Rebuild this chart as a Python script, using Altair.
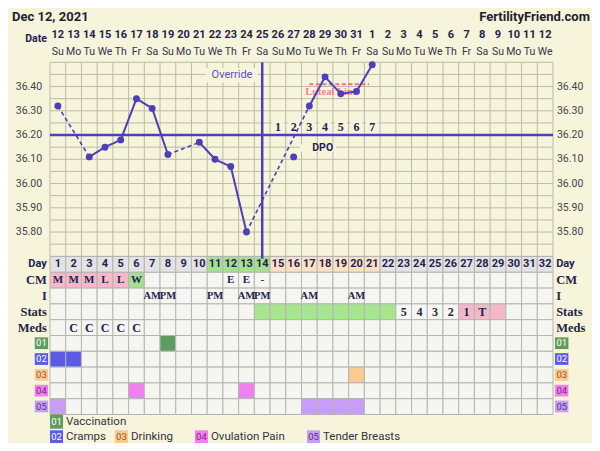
import altair as alt
import pandas as pd

# ---------------- data ----------------
dates = ["12","13","14","15","16","17","18","19","20","21","22","23","24","25","26","27",
         "28","29","30","31","1","2","3","4","5","6","7","8","9","10","11","12"]
weekdays = ["Su","Mo","Tu","We","Th","Fr","Sa","Su","Mo","Tu","We","Th","Fr","Sa","Su","Mo",
            "Tu","We","Th","Fr","Sa","Su","Mo","Tu","We","Th","Fr","Sa","Su","Mo","Tu","We"]
cycle_days = list(range(1, 33))

temp_days = [1, 3, 4, 5, 6, 7, 8, 10, 11, 12, 13, 16, 17, 18, 19, 20, 21]
temps = [36.32, 36.11, 36.15, 36.18, 36.35, 36.31, 36.12, 36.17, 36.10, 36.07, 35.80,
         36.11, 36.32, 36.44, 36.37, 36.38, 36.49]
discarded_days = [16]

temp_ticks = [36.40, 36.30, 36.20, 36.10, 36.00, 35.90, 35.80]
temp_tick_labels = ["36.40", "36.30", "36.20", "36.10", "36.00", "35.90", "35.80"]
temp_min, temp_max = 35.70, 36.50
coverline = 36.20
ovulation_day = 14
dpo_days = [15, 16, 17, 18, 19, 20, 21]
dpo_labels = ["1", "2", "3", "4", "5", "6", "7"]
luteal_level = 36.41

row_names = ["Day", "CM", "I", "Stats", "Meds"]
day_green = [11, 12, 13, 14]
day_peach = [15, 16, 17, 18, 19, 20, 21]
cm_days = [1, 2, 3, 4, 5, 6, 12, 13, 14]
cm_vals = ["M", "M", "M", "L", "L", "W", "E", "E", "-"]
cm_pink = [1, 2, 3, 4, 5]
cm_green = [6]
i_days = [7, 8, 11, 13, 14, 17, 20]
i_vals = ["AM", "PM", "PM", "AM", "PM", "AM", "AM"]
stats_green = [14, 15, 16, 17, 18, 19, 20, 21, 22]
stats_pink = [27, 28, 29]
stats_days = [23, 24, 25, 26, 27, 28]
stats_vals = ["5", "4", "3", "2", "1", "T"]
meds_days = [2, 3, 4, 5, 6]
meds_vals = ["C", "C", "C", "C", "C"]

symptom_codes = ["01", "02", "03", "04", "05"]
symptom_names = ["Vaccination", "Cramps", "Drinking", "Ovulation Pain", "Tender Breasts"]
symptom_days = [[8], [1, 2], [20], [6, 13], [1, 17, 18, 19, 20]]
symptom_colors = ["#5f9c5f", "#5b5be6", "#fbc992", "#f27ff0", "#c89cf7"]
symptom_text_colors = ["#ffffff", "#ffffff", "#9a5a2a", "#7a2a7a", "#4a3a7a"]

# ---------------- style ----------------
BG = "#f7f4dc"
GRID = "#bcbaa5"
CELL = "#f6f6f1"
CELL_LINE = "#b4b4b4"
INDIGO = "#4b40b8"
NAVY = "#23234d"
SANS = "Roboto"
SERIF = "Liberation Serif"

XS = alt.Scale(domain=[0, 32], range=[42, 545], nice=False, zero=False)
TS = alt.Scale(domain=[temp_min, temp_max], range=[248.3, 54.3], nice=False, zero=False)
RS = alt.Scale(domain=[0, 10], range=[248.5, 406.5], nice=False, zero=False)


def X(f):
    return alt.X(f, type="quantitative", scale=XS, axis=None)


def YT(f):
    return alt.Y(f, type="quantitative", scale=TS, axis=None)


def YR(f):
    return alt.Y(f, type="quantitative", scale=RS, axis=None)


layers = []

# temperature grid
vgrid = pd.DataFrame({"x": list(range(0, 33)), "y": temp_min, "y2": temp_max})
layers.append(alt.Chart(vgrid).mark_rule(color=GRID, strokeWidth=1).encode(
    x=X("x"), y=YT("y"), y2="y2"))
hlevels = [round(temp_min + 0.05 * i, 2) for i in range(17)]
hgrid = pd.DataFrame({"y": hlevels, "x": 0, "x2": 32})
layers.append(alt.Chart(hgrid).mark_rule(color=GRID, strokeWidth=1).encode(
    y=YT("y"), x=X("x"), x2="x2"))

# label boxes hiding grid lines
boxes = pd.DataFrame({
    "x": [9.9, 15.9] + [d - 0.88 for d in dpo_days],
    "x2": [13.2, 18.2] + [d - 0.12 for d in dpo_days],
    "y": [36.418, 36.132] + [36.215] * len(dpo_days),
    "y2": [36.476, 36.162] + [36.262] * len(dpo_days),
})
layers.append(alt.Chart(boxes).mark_rect(color=BG).encode(
    x=X("x"), x2="x2", y=YT("y"), y2="y2"))

# table cells
cells = []
for r in range(10):
    for d in cycle_days:
        fill = CELL
        if r == 0:
            fill = "#e3e3e3"
            if d in day_green:
                fill = "#a5e08f"
            elif d in day_peach:
                fill = "#fde1c4"
        elif r == 1:
            if d in cm_pink:
                fill = "#f5b9c9"
            elif d in cm_green:
                fill = "#a5e08f"
        elif r == 3:
            if d in stats_green:
                fill = "#a7e58f"
            elif d in stats_pink:
                fill = "#f4b8c8"
        elif r >= 5:
            k = r - 5
            if d in symptom_days[k]:
                fill = symptom_colors[k]
        cells.append({"x": d - 1, "x2": d, "y": r, "y2": r + 1, "fill": fill})
cells = pd.DataFrame(cells)
layers.append(alt.Chart(cells).mark_rect(stroke=CELL_LINE, strokeWidth=1).encode(
    x=X("x"), x2="x2", y=YR("y"), y2="y2", fill=alt.Fill("fill:N", scale=None)))

# cover line and ovulation line
layers.append(alt.Chart(pd.DataFrame({"y": [coverline], "x": [0], "x2": [32]})).mark_rule(
    color=INDIGO, strokeWidth=2.5).encode(y=YT("y"), x=X("x"), x2="x2"))
layers.append(alt.Chart(pd.DataFrame({"x": [ovulation_day - 0.5], "y": [temp_max], "y2": [35.69]})).mark_rule(
    color=INDIGO, strokeWidth=2.5).encode(x=X("x"), y=YT("y"), y2="y2"))

# luteal line
layers.append(alt.Chart(pd.DataFrame({"x": [16.5], "x2": [20.3], "y": [luteal_level]})).mark_rule(
    color="#f07088", strokeWidth=2, strokeDash=[4, 2.5]).encode(x=X("x"), x2="x2", y=YT("y")))
layers.append(alt.Chart(pd.DataFrame({"x": [17.9], "y": [36.376], "t": ["Luteal Line"]})).mark_text(
    font=SERIF, fontSize=10.5, fontWeight="bold", color="#ee6f86", opacity=0.85).encode(
    x=X("x"), y=YT("y"), text="t:N"))

# temperature lines
valid = [(d, t) for d, t in zip(temp_days, temps) if d not in discarded_days]
solid, dashed = [], []
for i in range(len(valid) - 1):
    (d0, t0), (d1, t1) = valid[i], valid[i + 1]
    target = solid if d1 - d0 == 1 else dashed
    target.append({"seg": i, "x": d0 - 0.5, "t": t0})
    target.append({"seg": i, "x": d1 - 0.5, "t": t1})
layers.append(alt.Chart(pd.DataFrame(dashed)).mark_line(
    color=INDIGO, strokeWidth=1.6, strokeDash=[4, 3]).encode(
    x=X("x"), y=YT("t"), detail="seg:N"))
layers.append(alt.Chart(pd.DataFrame(solid)).mark_line(
    color=INDIGO, strokeWidth=2).encode(x=X("x"), y=YT("t"), detail="seg:N"))
pts = pd.DataFrame({"x": [d - 0.5 for d in temp_days], "t": temps})
layers.append(alt.Chart(pts).mark_circle(color=INDIGO, size=48, opacity=1).encode(
    x=X("x"), y=YT("t")))

# annotations on the temperature chart
layers.append(alt.Chart(pd.DataFrame({"x": [11.58], "y": [36.447], "t": ["Override"]})).mark_text(
    font=SANS, fontSize=11, color="#5a4fc2").encode(x=X("x"), y=YT("y"), text="t:N"))
layers.append(alt.Chart(pd.DataFrame({"x": [17.35], "y": [36.146], "t": ["DPO"]})).mark_text(
    font=SANS, fontSize=10.5, fontWeight="bold", color=NAVY).encode(x=X("x"), y=YT("y"), text="t:N"))
layers.append(alt.Chart(pd.DataFrame({"x": [d - 0.5 for d in dpo_days], "y": 36.234, "t": dpo_labels})).mark_text(
    font=SERIF, fontSize=12, fontWeight="bold", color=NAVY).encode(x=X("x"), y=YT("y"), text="t:N"))

# header
layers.append(alt.Chart(pd.DataFrame({"x": [-2.42], "y": [-15.15], "t": ["Dec 12, 2021"]})).mark_text(
    font=SANS, fontSize=13, fontWeight="bold", color="#1f1f2e", align="left").encode(
    x=X("x"), y=YR("y"), text="t:N"))
layers.append(alt.Chart(pd.DataFrame({"x": [34.35], "y": [-15.15], "t": ["FertilityFriend.com"]})).mark_text(
    font=SANS, fontSize=13, fontWeight="bold", color="#1f1f2e", align="right").encode(
    x=X("x"), y=YR("y"), text="t:N"))
layers.append(alt.Chart(pd.DataFrame({"x": [-0.2], "y": [-13.75], "t": ["Date"]})).mark_text(
    font=SANS, fontSize=10.5, fontWeight="bold", color=NAVY, align="right").encode(
    x=X("x"), y=YR("y"), text="t:N"))
hdr = pd.DataFrame({"x": [d - 0.5 for d in cycle_days], "date": dates, "wd": weekdays})
layers.append(alt.Chart(hdr).mark_text(font=SANS, fontSize=11, fontWeight="bold", color=NAVY).encode(
    x=X("x"), y=alt.Y(datum=-14.05, type="quantitative", scale=RS, axis=None), text="date:N"))
layers.append(alt.Chart(hdr).mark_text(font=SANS, fontSize=10.5, color="#33334a").encode(
    x=X("x"), y=alt.Y(datum=-12.95, type="quantitative", scale=RS, axis=None), text="wd:N"))

# temperature tick labels (both sides)
tl = pd.DataFrame({"y": temp_ticks, "t": temp_tick_labels})
layers.append(alt.Chart(tl).mark_text(font=SANS, fontSize=10.5, color="#444444", align="right").encode(
    x=alt.X(datum=-0.5, type="quantitative", scale=XS, axis=None), y=YT("y"), text="t:N"))
layers.append(alt.Chart(tl).mark_text(font=SANS, fontSize=10.5, color="#444444", align="left").encode(
    x=alt.X(datum=32.25, type="quantitative", scale=XS, axis=None), y=YT("y"), text="t:N"))

# table row labels
rl = pd.DataFrame({"y": [r + 0.5 for r in range(5)], "t": row_names})
for side_x, al in [(-0.2, "right"), (32.2, "left")]:
    layers.append(alt.Chart(rl.iloc[:1]).mark_text(font=SANS, fontSize=11, fontWeight="bold",
                                                   color=NAVY, align=al).encode(
        x=alt.X(datum=side_x, type="quantitative", scale=XS, axis=None), y=YR("y"), text="t:N"))
    layers.append(alt.Chart(rl.iloc[1:]).mark_text(font=SERIF, fontSize=12.5, fontWeight="bold",
                                                   color=NAVY, align=al).encode(
        x=alt.X(datum=side_x, type="quantitative", scale=XS, axis=None), y=YR("y"), text="t:N"))

# symptom code boxes on both sides
code_boxes = []
for k, code in enumerate(symptom_codes):
    for x0 in (-0.97, 32.13):
        code_boxes.append({"x": x0, "x2": x0 + 0.85, "y": 5 + k + 0.12, "y2": 5 + k + 0.86,
                           "fill": symptom_colors[k], "tc": symptom_text_colors[k],
                           "xc": x0 + 0.425, "yc": 5 + k + 0.5, "t": code})
code_boxes = pd.DataFrame(code_boxes)
layers.append(alt.Chart(code_boxes).mark_rect().encode(
    x=X("x"), x2="x2", y=YR("y"), y2="y2", fill=alt.Fill("fill:N", scale=None)))
layers.append(alt.Chart(code_boxes).mark_text(font=SANS, fontSize=9.5).encode(
    x=X("xc"), y=YR("yc"), text="t:N", color=alt.Color("tc:N", scale=None)))

# table texts
dayt = pd.DataFrame({"x": [d - 0.5 for d in cycle_days], "y": 0.5, "t": [str(d) for d in cycle_days]})
layers.append(alt.Chart(dayt).mark_text(font=SANS, fontSize=11, fontWeight="bold", color=NAVY).encode(
    x=X("x"), y=YR("y"), text="t:N"))
tt = pd.DataFrame(
    [{"x": d - 0.5, "y": 1.5, "t": v, "s": 11} for d, v in zip(cm_days, cm_vals)]
    + [{"x": d - 0.5, "y": 2.5, "t": v, "s": 10.5} for d, v in zip(i_days, i_vals)]
    + [{"x": d - 0.5, "y": 3.5, "t": v, "s": 12} for d, v in zip(stats_days, stats_vals)]
    + [{"x": d - 0.5, "y": 4.5, "t": v, "s": 12} for d, v in zip(meds_days, meds_vals)]
)
for s in sorted(set(tt["s"])):
    layers.append(alt.Chart(tt[tt["s"] == s]).mark_text(font=SERIF, fontSize=s, fontWeight="bold",
                                                        color=NAVY).encode(
        x=X("x"), y=YR("y"), text="t:N"))

# legend
leg_x = [0.0, 0.0, 4.13, 9.22, 16.35]
leg_y = [10.45, 11.45, 11.45, 11.45, 11.45]
leg = pd.DataFrame({
    "x": leg_x, "x2": [v + 0.83 for v in leg_x], "xc": [v + 0.415 for v in leg_x],
    "xt": [v + 1.02 for v in leg_x],
    "y": [v - 0.45 for v in leg_y], "y2": [v + 0.45 for v in leg_y], "yc": leg_y,
    "code": symptom_codes, "name": symptom_names, "fill": symptom_colors, "tc": symptom_text_colors,
})
layers.append(alt.Chart(leg).mark_rect().encode(
    x=X("x"), x2="x2", y=YR("y"), y2="y2", fill=alt.Fill("fill:N", scale=None)))
layers.append(alt.Chart(leg).mark_text(font=SANS, fontSize=9.5).encode(
    x=X("xc"), y=YR("yc"), text="code:N", color=alt.Color("tc:N", scale=None)))
layers.append(alt.Chart(leg).mark_text(font=SANS, fontSize=11.5, color="#333340", align="left").encode(
    x=X("xt"), y=YR("yc"), text="name:N"))

chart = alt.layer(*layers).resolve_scale(y="independent").properties(
    width=584, height=435, background=BG, padding=0, autosize="none"
).configure_view(strokeWidth=0)

chart.save("out.html", embed_options={"renderer": "svg", "actions": False})
